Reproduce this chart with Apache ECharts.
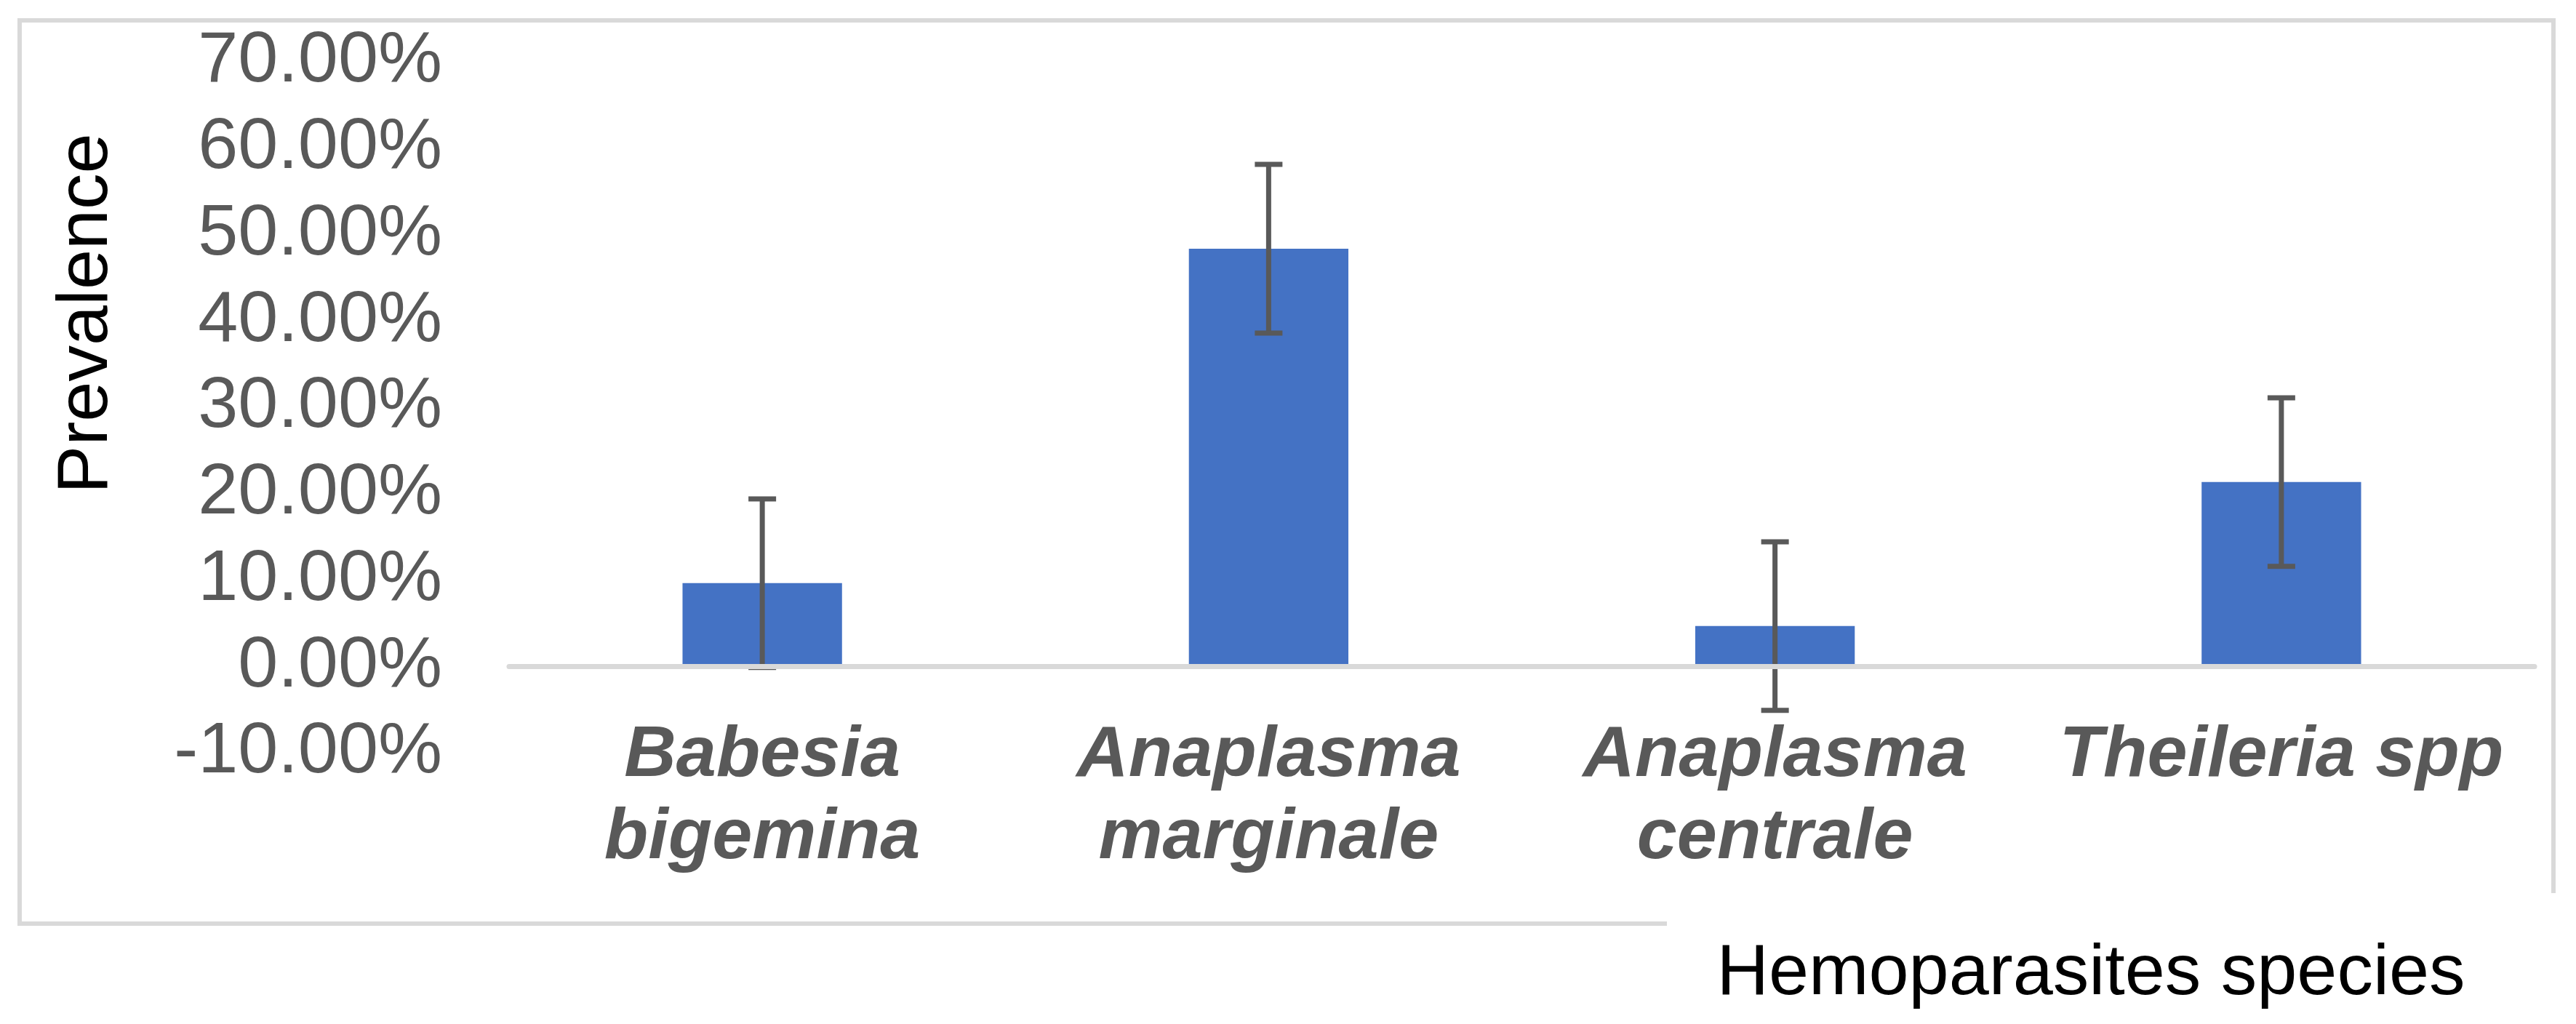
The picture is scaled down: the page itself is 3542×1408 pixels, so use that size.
<!DOCTYPE html>
<html>
<head>
<meta charset="utf-8">
<script src="https://cdn.jsdelivr.net/npm/echarts@6/dist/echarts.min.js"></script>
<style>
html,body{margin:0;padding:0;background:#fff;}
#c{width:3542px;height:1408px;}
</style>
</head>
<body>
<div id="c"></div>
<script>
const categories = ['Babesia\nbigemina', 'Anaplasma\nmarginale', 'Anaplasma\ncentrale', 'Theileria spp'];
const prevalence = [9.64, 48.36, 4.67, 21.34];
const errorMargin = [9.76, 9.76, 9.76, 9.76];
const yMin = -10, yMax = 70, yStep = 10;
const yTitle = 'Prevalence';
const xTitle = 'Hemoparasites species';

const FONT = "'Liberation Sans', Arial, sans-serif";
const chart = echarts.init(document.getElementById('c'), null, {renderer: 'canvas'});

const errData = prevalence.map((v, i) => [i, v - errorMargin[i], v + errorMargin[i]]);

chart.setOption({
  animation: false,
  backgroundColor: '#ffffff',
  grid: {left: 700, right: 57, top: 85, bottom: 373, containLabel: false},
  xAxis: {
    type: 'category',
    data: categories,
    z: 10,
    axisLine: {onZero: true, lineStyle: {color: '#d9d9d9', width: 7}},
    axisTick: {show: false},
    splitLine: {show: false},
    axisLabel: {
      interval: 0, margin: -52,
      fontFamily: FONT, fontSize: 99, fontWeight: 'bold', fontStyle: 'italic',
      color: '#595959', lineHeight: 113
    }
  },
  yAxis: {
    type: 'value',
    min: yMin, max: yMax, interval: yStep,
    axisLine: {show: false},
    axisTick: {show: false},
    splitLine: {show: false},
    axisLabel: {
      margin: 92, fontFamily: FONT, fontSize: 99, color: '#595959',
      formatter: v => v.toFixed(2) + '%'
    }
  },
  series: [
    {
      type: 'bar',
      data: prevalence,
      barWidth: '31.5%',
      itemStyle: {color: '#4472c4'},
      z: 2
    },
    {
      type: 'custom',
      data: errData,
      z: 5,
      renderItem: function (params, api) {
        const lo = api.coord([api.value(0), api.value(1)]);
        const hi = api.coord([api.value(0), api.value(2)]);
        const hw = 19;
        const st = {stroke: '#595959', lineWidth: 7};
        return {
          type: 'group',
          children: [
            {type: 'line', shape: {x1: lo[0], y1: lo[1], x2: hi[0], y2: hi[1]}, style: st},
            {type: 'line', shape: {x1: hi[0] - hw, y1: hi[1], x2: hi[0] + hw, y2: hi[1]}, style: st},
            {type: 'line', shape: {x1: lo[0] - hw, y1: lo[1], x2: lo[0] + hw, y2: lo[1]}, style: st}
          ]
        };
      }
    }
  ],
  graphic: [
    {
      type: 'polyline',
      shape: {points: [[2292, 1270], [27, 1270], [27, 28], [3511, 28], [3511, 1228]]},
      style: {stroke: '#d9d9d9', lineWidth: 6, fill: null},
      silent: true
    },
    {
      type: 'text',
      x: 120, y: 431, rotation: Math.PI / 2,
      style: {text: yTitle, fontFamily: FONT, fontSize: 99, fill: '#000000', align: 'center', verticalAlign: 'middle'}
    },
    {
      type: 'text',
      x: 2875, y: 1340,
      style: {text: xTitle, fontFamily: FONT, fontSize: 99, fill: '#000000', align: 'center', verticalAlign: 'middle'}
    }
  ]
});
</script>
</body>
</html>
